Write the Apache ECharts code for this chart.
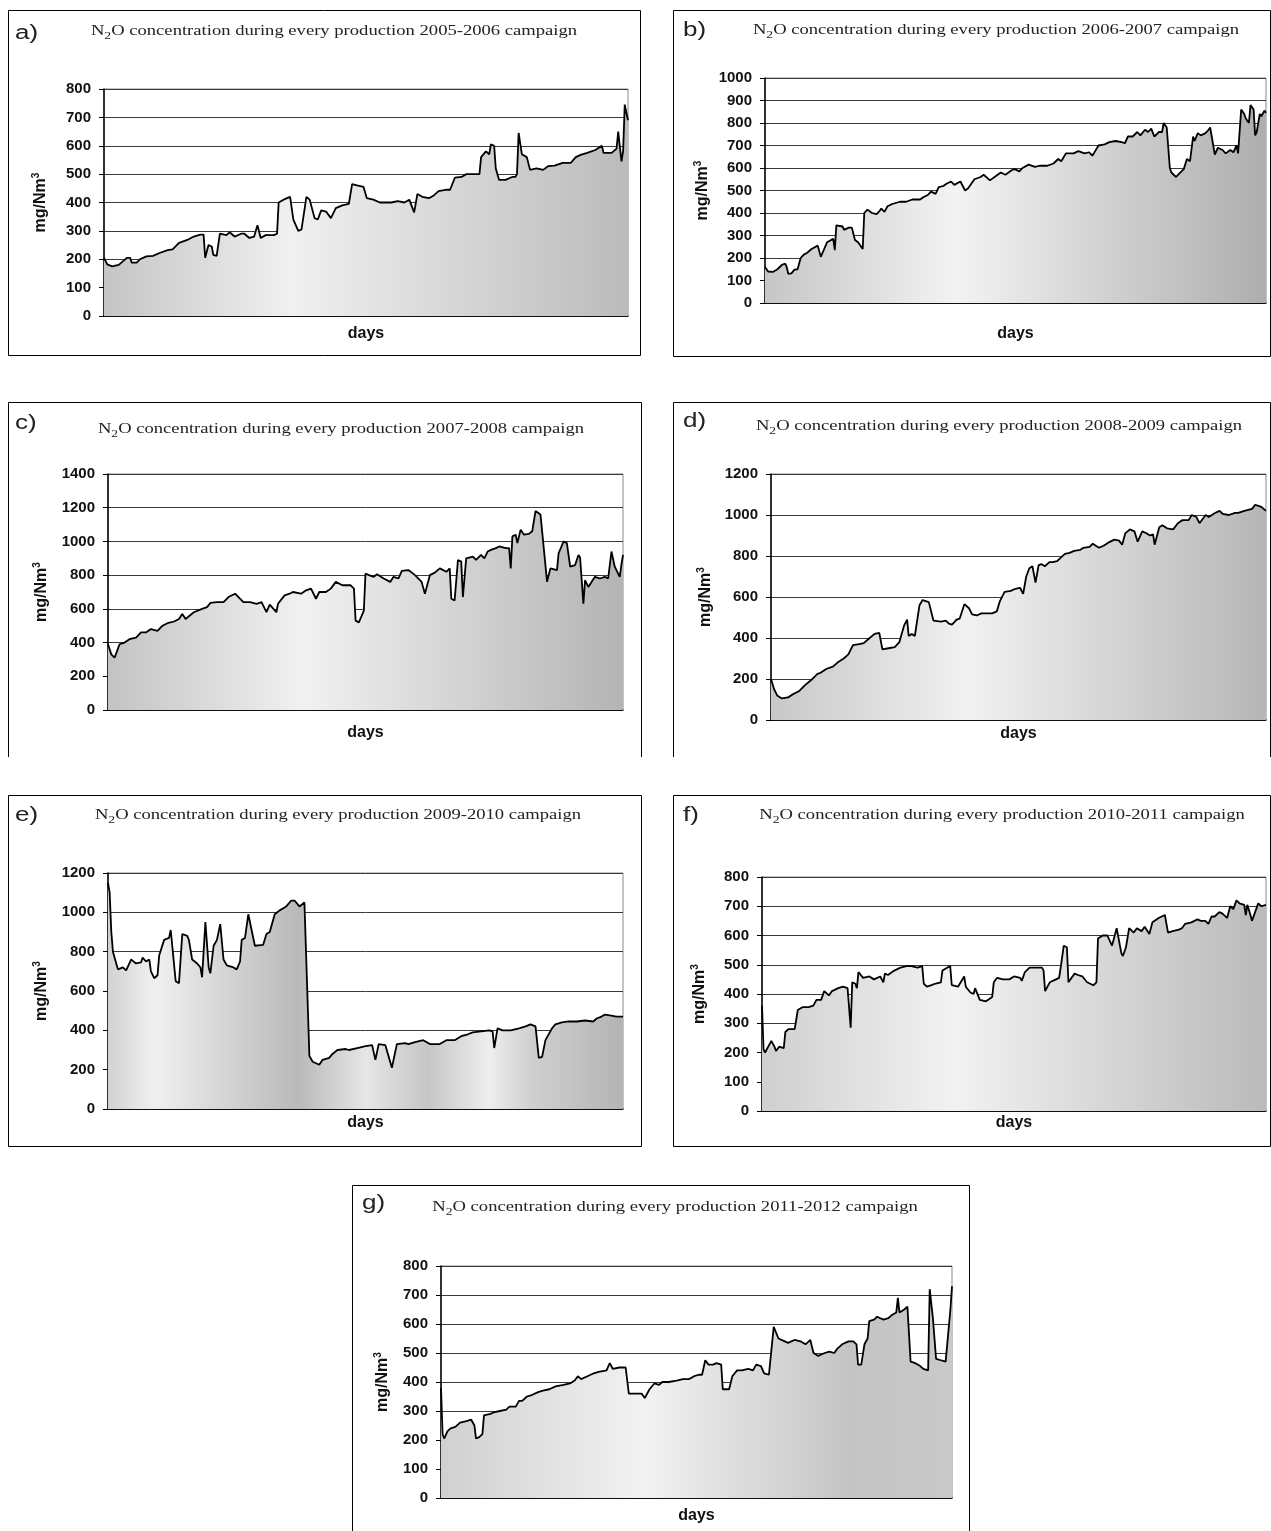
<!DOCTYPE html>
<html><head><meta charset="utf-8">
<script src="https://cdn.jsdelivr.net/npm/echarts@6/dist/echarts.min.js"></script>
<style>html,body{margin:0;padding:0;background:#fff}#c{width:1271px;height:1531px}</style>
</head><body><div id="c"></div><script>
// [day, N2O mg/Nm3]
const seriesA = [[0,205],[2,182],[5,175],[9,180],[11,190],[14,205],[16,205],[17,188],[20,188],[22,200],[26,210],[30,212],[34,222],[39,232],[42,235],[46,258],[51,268],[55,280],[59,287],[61,287],[62,205],[64,250],[66,245],[67,215],[69,212],[71,290],[75,285],[77,295],[80,280],[84,290],[86,290],[89,275],[92,280],[94,320],[96,275],[99,285],[104,285],[106,290],[107,400],[110,410],[114,420],[116,340],[119,300],[121,305],[124,420],[126,410],[129,345],[131,340],[133,372],[136,368],[139,345],[142,380],[146,390],[150,395],[152,465],[155,460],[159,455],[161,415],[165,410],[169,400],[172,400],[176,400],[180,405],[184,400],[187,410],[190,365],[191,365],[192,430],[195,420],[199,415],[202,425],[205,440],[210,445],[212,445],[215,488],[219,490],[222,500],[227,500],[230,500],[231,560],[234,580],[236,570],[237,605],[239,600],[240,520],[242,480],[246,480],[250,490],[252,490],[253,500],[254,645],[256,570],[259,560],[261,515],[265,520],[269,515],[272,528],[276,530],[281,540],[286,540],[289,560],[292,568],[296,575],[301,585],[305,600],[306,575],[311,575],[314,590],[315,650],[317,545],[318,580],[319,745],[321,690]];
const seriesB = [[0,160],[2,140],[5,138],[8,150],[11,170],[13,175],[14,160],[15,130],[17,132],[19,148],[21,150],[23,200],[25,215],[27,222],[30,240],[34,255],[36,205],[40,270],[44,285],[45,235],[46,345],[50,340],[51,325],[54,335],[56,335],[58,280],[60,270],[63,240],[64,400],[66,415],[69,400],[72,395],[74,410],[75,420],[77,405],[79,430],[82,440],[87,450],[91,450],[95,460],[100,460],[102,470],[105,480],[107,495],[110,485],[112,515],[115,520],[117,530],[120,540],[122,525],[126,540],[129,500],[131,510],[135,550],[139,560],[141,570],[145,545],[150,570],[152,580],[155,570],[159,590],[161,595],[164,585],[166,600],[170,615],[174,605],[177,610],[182,610],[186,620],[189,640],[191,630],[194,665],[199,665],[202,675],[206,665],[209,670],[211,655],[212,665],[215,700],[219,705],[222,715],[226,720],[230,715],[232,710],[234,740],[237,740],[240,760],[242,745],[245,770],[247,760],[249,775],[251,740],[254,760],[256,760],[257,800],[259,780],[261,600],[262,580],[265,560],[267,575],[270,595],[272,640],[274,630],[276,740],[277,720],[279,755],[281,745],[284,755],[286,770],[287,780],[290,660],[292,690],[295,680],[297,665],[300,680],[302,670],[304,700],[305,665],[307,860],[309,840],[310,820],[312,800],[313,880],[315,860],[316,745],[317,760],[319,840],[320,830],[322,855],[323,845]];
const seriesC = [[0,390],[2,330],[4,310],[7,390],[10,400],[13,420],[17,430],[20,460],[23,460],[26,480],[30,470],[33,500],[36,515],[40,525],[43,540],[45,570],[47,540],[52,580],[57,600],[60,610],[62,635],[66,640],[70,640],[73,670],[77,690],[82,640],[86,640],[90,630],[91,640],[93,640],[96,580],[98,625],[102,580],[103,630],[107,680],[110,690],[112,700],[117,690],[120,710],[123,720],[126,660],[128,700],[132,700],[135,720],[138,760],[142,740],[147,740],[149,720],[150,530],[152,520],[155,590],[156,810],[158,800],[161,790],[163,805],[167,780],[171,760],[173,790],[176,780],[178,825],[182,830],[186,800],[190,760],[192,690],[195,800],[198,815],[201,840],[205,820],[207,840],[208,660],[210,650],[212,890],[214,880],[215,670],[217,900],[221,910],[223,890],[226,920],[228,900],[230,940],[232,950],[235,960],[237,970],[241,960],[243,960],[244,840],[245,1030],[247,1040],[248,990],[250,1070],[252,1040],[255,1045],[257,1060],[259,1180],[262,1160],[263,1160],[266,760],[268,840],[272,830],[273,930],[276,1000],[278,990],[280,850],[283,860],[285,920],[286,905],[288,630],[289,770],[291,730],[295,790],[298,780],[301,790],[303,780],[305,940],[307,850],[310,790],[311,860],[312,920]];
const seriesD = [[0,200],[2,150],[4,120],[7,105],[11,110],[14,125],[18,140],[22,170],[26,195],[30,225],[32,230],[36,250],[40,260],[43,280],[47,300],[50,320],[53,365],[57,370],[60,375],[63,395],[67,420],[70,425],[72,345],[76,350],[80,355],[83,380],[86,460],[88,490],[89,410],[91,420],[93,410],[96,560],[98,585],[102,575],[105,485],[110,480],[113,485],[115,470],[117,465],[120,490],[122,495],[125,565],[128,545],[130,515],[133,510],[136,520],[140,520],[143,520],[146,530],[148,580],[151,625],[155,630],[158,640],[161,645],[163,615],[165,700],[167,740],[169,750],[171,670],[173,755],[175,760],[177,750],[180,770],[182,770],[185,775],[187,790],[190,810],[193,815],[196,825],[200,830],[202,840],[206,845],[208,860],[212,840],[215,850],[218,865],[222,880],[225,875],[227,855],[229,910],[232,930],[235,920],[237,870],[240,920],[243,910],[245,900],[247,905],[248,855],[251,940],[253,950],[256,935],[260,930],[263,960],[266,975],[270,975],[272,1000],[275,990],[277,960],[278,955],[281,1000],[283,990],[287,1010],[290,1020],[292,1005],[296,1000],[300,1010],[302,1010],[306,1020],[311,1030],[313,1050],[317,1040],[320,1020]];
const seriesE = [[0,1150],[1,1100],[2,900],[3,800],[5,740],[6,710],[9,720],[11,705],[14,760],[15,770],[17,740],[20,745],[21,770],[23,750],[25,760],[26,700],[28,665],[30,680],[31,780],[34,860],[37,870],[38,910],[39,900],[41,650],[43,640],[45,890],[48,880],[49,860],[51,760],[54,740],[56,720],[57,670],[59,950],[61,720],[62,690],[64,830],[66,860],[68,940],[70,760],[72,730],[76,720],[78,710],[80,750],[81,860],[83,870],[85,990],[86,1000],[89,830],[94,835],[96,890],[98,900],[101,990],[104,1010],[108,1030],[111,1060],[113,1060],[116,1030],[119,1050],[120,1040],[122,270],[124,240],[128,225],[130,250],[134,260],[136,280],[139,300],[144,305],[146,300],[151,310],[156,320],[160,325],[162,250],[164,330],[168,325],[172,210],[175,330],[180,335],[182,330],[186,340],[191,350],[195,330],[201,330],[205,350],[210,350],[214,370],[218,380],[221,390],[226,395],[231,400],[233,395],[234,310],[236,410],[239,400],[244,400],[249,410],[253,420],[256,430],[259,420],[261,260],[263,265],[265,350],[266,360],[269,410],[271,430],[275,440],[279,445],[284,445],[289,450],[294,445],[296,460],[297,450],[299,470],[301,480],[305,475],[308,470],[312,470]];
const seriesF = [[0,360],[1,210],[2,200],[4,220],[6,240],[8,220],[9,205],[11,220],[14,215],[15,270],[17,280],[21,280],[23,345],[26,355],[30,355],[33,360],[35,380],[38,380],[40,410],[43,395],[45,410],[49,420],[52,425],[55,420],[57,285],[58,440],[60,435],[61,420],[62,475],[65,455],[69,460],[72,450],[76,460],[78,440],[79,470],[81,465],[85,480],[89,490],[93,495],[96,495],[100,490],[103,495],[104,435],[106,425],[109,430],[111,435],[115,440],[116,480],[119,490],[121,495],[122,430],[126,425],[130,460],[131,425],[134,405],[136,400],[137,420],[140,380],[144,375],[148,390],[149,440],[151,455],[155,450],[159,450],[162,460],[166,455],[167,445],[169,475],[172,490],[176,490],[180,490],[181,480],[182,410],[185,440],[189,450],[191,455],[192,490],[194,565],[196,560],[197,440],[201,470],[203,465],[206,460],[209,440],[211,435],[213,430],[215,440],[216,590],[219,600],[222,600],[225,565],[226,565],[228,625],[229,620],[231,540],[232,530],[234,560],[236,625],[239,610],[241,625],[244,615],[246,630],[249,605],[251,645],[255,660],[259,670],[261,610],[264,615],[268,620],[270,625],[272,640],[276,645],[280,655],[282,650],[285,650],[287,640],[289,665],[291,665],[294,680],[296,675],[299,660],[301,700],[303,690],[305,720],[307,710],[310,705],[311,670],[312,705],[314,670],[315,650],[317,680],[319,710],[321,700],[324,705]];
const seriesG = [[0,380],[1,220],[2,205],[4,230],[6,240],[9,245],[12,260],[16,265],[19,270],[21,250],[22,205],[24,210],[26,220],[27,285],[31,290],[33,295],[37,300],[41,305],[43,315],[47,315],[49,335],[51,335],[54,350],[57,355],[61,365],[64,370],[68,375],[72,385],[77,390],[81,395],[84,405],[86,420],[88,410],[92,420],[96,430],[99,435],[104,440],[106,465],[108,445],[112,450],[116,450],[118,360],[122,360],[126,360],[128,345],[131,375],[134,395],[137,390],[139,400],[143,400],[148,405],[152,410],[156,410],[159,420],[162,425],[164,425],[166,475],[168,460],[171,460],[173,465],[176,460],[177,375],[181,375],[183,420],[186,440],[189,440],[193,445],[196,440],[198,460],[201,455],[203,430],[206,425],[207,430],[209,590],[212,550],[216,540],[218,535],[222,545],[226,540],[229,530],[232,545],[234,500],[237,490],[241,500],[244,505],[247,500],[249,515],[252,530],[256,540],[259,540],[261,530],[262,460],[264,460],[266,530],[268,550],[269,610],[272,615],[274,625],[276,620],[278,615],[281,620],[283,630],[286,640],[287,690],[288,640],[291,650],[293,660],[295,470],[298,465],[301,455],[303,445],[306,440],[307,720],[309,620],[311,480],[314,475],[317,470],[318,465],[320,650],[321,730]];

const letters = ['a)','b)','c)','d)','e)','f)','g)'];
const campaigns = ['2005-2006','2006-2007','2007-2008','2008-2009','2009-2010','2010-2011','2011-2012'];
const yMaxes = [800,1000,1400,1200,1200,800,800];
const ySteps = [100,100,200,200,200,100,100];
const allSeries = [seriesA,seriesB,seriesC,seriesD,seriesE,seriesF,seriesG];

// layout (pixels)
const layout = [
  {grid:[104,89,524,227], box:[8,10,640,355,true], letter:[15,33], title:[334,33], daysGap:10, nameGap:55},
  {grid:[765,78,501,225], box:[673,10,1270,356,true], letter:[683,30], title:[996,32], daysGap:23, nameGap:54},
  {grid:[108,474,515,236], box:[8,402,641,757,false], letter:[15,423], title:[341,431], daysGap:15, nameGap:58},
  {grid:[771,474,495,246], box:[673,402,1270,757,false], letter:[683,421], title:[999,428], daysGap:6, nameGap:57},
  {grid:[108,873,515,236], box:[8,795,641,1146,true], letter:[15,815], title:[338,817], daysGap:6, nameGap:58},
  {grid:[762,877,504,234], box:[673,795,1270,1146,true], letter:[683,815], title:[1002,817], daysGap:4, nameGap:54},
  {grid:[441,1266,511,232], box:[352,1185,969,1531,false], letter:[362,1203], title:[675,1209], daysGap:10, nameGap:50}
];
const fills = [
  [[0,'#c5c5c5'],[0.36,'#f0f0f0'],[1,'#bbbbbb']],
  [[0,'#c6c6c6'],[0.38,'#f3f3f3'],[1,'#aeaeae']],
  [[0,'#c3c3c3'],[0.38,'#f1f1f1'],[1,'#b4b4b4']],
  [[0,'#c8c8c8'],[0.4,'#f1f1f1'],[1,'#b6b6b6']],
  [[0,'#d2d2d2'],[0.09,'#f0f0f0'],[0.37,'#b9b9b9'],[0.5,'#e6e6e6'],[0.62,'#c6c6c6'],[0.74,'#eeeeee'],[0.82,'#d0d0d0'],[1,'#b4b4b4']],
  [[0,'#cfcfcf'],[0.38,'#f2f2f2'],[1,'#bababa']],
  [[0,'#d0d0d0'],[0.4,'#f2f2f2'],[0.8,'#c4c4c4'],[1,'#c9c9c9']]
];

const SANS = 'Liberation Sans', SERIF = 'Liberation Serif';
const grids=[], xAxes=[], yAxes=[], series=[], graphics=[];
allSeries.forEach((data,i)=>{
  const L = layout[i];
  grids.push({left:L.grid[0], top:L.grid[1], width:L.grid[2], height:L.grid[3], show:true, borderColor:'#8a8a8a', borderWidth:1, backgroundColor:'transparent'});
  const maxDay = data[data.length-1][0];
  xAxes.push({type:'value', gridIndex:i, min:0, max:maxDay, name:'days', nameLocation:'middle', nameGap:L.daysGap,
    nameTextStyle:{fontFamily:SANS, fontWeight:'bold', fontSize:16, color:'#111', verticalAlign:'top'},
    axisLine:{show:true, onZero:false, lineStyle:{color:'#000', width:1.5}}, axisTick:{show:false}, axisLabel:{show:false}, splitLine:{show:false}});
  yAxes.push({type:'value', gridIndex:i, min:0, max:yMaxes[i], interval:ySteps[i],
    name:'{u|mg/Nm}{p|3}', nameLocation:'middle', nameRotate:90, nameGap:L.nameGap,
    nameTextStyle:{rich:{u:{fontFamily:SANS, fontWeight:'bold', fontSize:16, color:'#111', verticalAlign:'bottom'}, p:{fontFamily:SANS, fontWeight:'bold', fontSize:10, color:'#111', verticalAlign:'bottom', padding:[0,0,8,0]}}},
    axisLine:{show:true, lineStyle:{color:'#000', width:1.5}},
    axisTick:{show:true, length:5, lineStyle:{color:'#000'}},
    axisLabel:{fontFamily:SANS, fontWeight:'bold', fontSize:15, color:'#111', margin:13, formatter:v=>String(v)},
    splitLine:{show:true, lineStyle:{color:'#3a3a3a', width:1}}});
  series.push({type:'line', xAxisIndex:i, yAxisIndex:i, data:data, showSymbol:false, symbol:'none',
    lineStyle:{color:'#000', width:1.8}, z:3,
    areaStyle:{opacity:1, origin:'start', color:{type:'linear', x:0, y:0, x2:1, y2:0, colorStops:fills[i].map(s=>({offset:s[0], color:s[1]}))}}});
  graphics.push({type:'text', x:L.title[0], y:L.title[1], scaleX:1.24, silent:true,
    style:{text:'{n|N}{s|2}{n|O concentration during every production '+campaigns[i]+' campaign}', align:'center', verticalAlign:'middle',
      rich:{n:{fontFamily:SERIF, fontSize:15, fill:'#222', verticalAlign:'bottom', padding:[0,0,3,0]}, s:{fontFamily:SERIF, fontSize:11, fill:'#222', verticalAlign:'bottom'}}}});
  graphics.push({type:'text', x:L.letter[0], y:L.letter[1], scaleX:1.3, silent:true,
    style:{text:letters[i], font:'20px "Liberation Sans"', fill:'#222', align:'left', verticalAlign:'middle'}});
  const b = L.box;
  const pts = b[4] ? [[b[0]+.5,b[1]+.5],[b[2]+.5,b[1]+.5],[b[2]+.5,b[3]+.5],[b[0]+.5,b[3]+.5],[b[0]+.5,b[1]+.5]]
                   : [[b[0]+.5,b[3]],[b[0]+.5,b[1]+.5],[b[2]+.5,b[1]+.5],[b[2]+.5,b[3]]];
  graphics.push({type:'polyline', shape:{points:pts}, style:{stroke:'#000', lineWidth:1, fill:null}, silent:true});
});

const chart = echarts.init(document.getElementById('c'), null, {renderer:'canvas'});
chart.setOption({backgroundColor:'#fff', animation:false, grid:grids, xAxis:xAxes, yAxis:yAxes, series:series, graphic:graphics});
</script></body></html>
